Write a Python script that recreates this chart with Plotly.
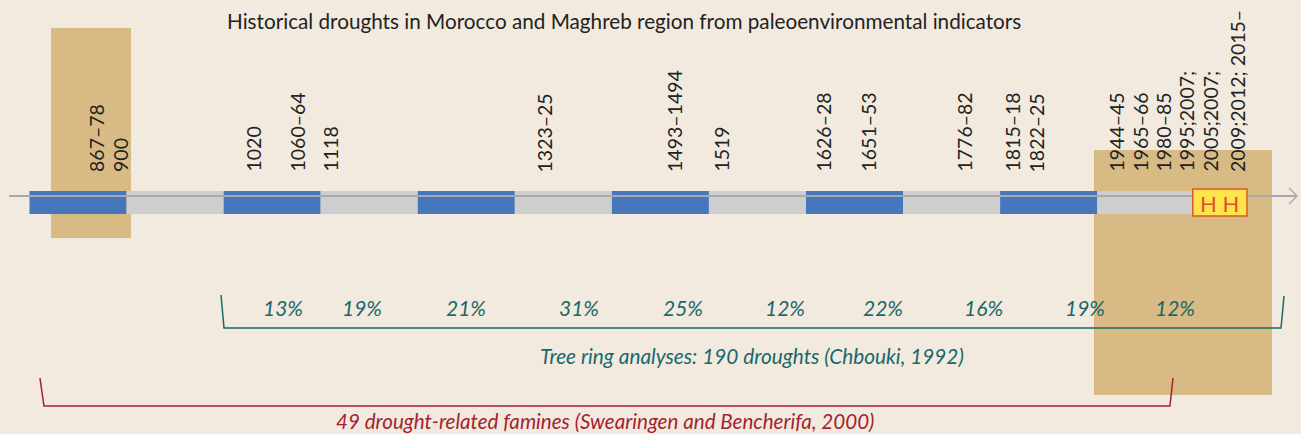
import plotly.graph_objects as go

# ---------------- data ----------------
title_text = "Historical droughts in Morocco and Maghreb region from paleoenvironmental indicators"

century_starts = [800, 900, 1000, 1100, 1200, 1300, 1400, 1500, 1600, 1700, 1800, 1900]
century_len = [100] * 12
century_kind = ["drought", "other"] * 6

recent_start = 1998.5
recent_end = 2054.4
recent_text = "H H"

drought_labels = ["867–78", "900", "1020", "1060–64", "1118", "1323–25", "1493–1494", "1519",
                  "1626–28", "1651–53", "1776–82", "1815–18", "1822–25", "1944–45", "1965–66",
                  "1980–85", "1995;2007;", "2005;2007;", "2009;2012; 2015–"]
drought_label_x = [868.5, 893.2, 1030.3, 1075.6, 1109.6, 1331.1, 1464.0, 1512.5,
                   1617.6, 1663.9, 1762.8, 1812.3, 1838.0, 1919.4, 1944.2,
                   1967.9, 1991.6, 2016.3, 2044.1]

pct_labels = ["13%", "19%", "21%", "31%", "25%", "12%", "22%", "16%", "19%", "12%"]
pct_x = [1061.2, 1142.6, 1249.8, 1366.1, 1473.3, 1578.4, 1679.3, 1782.4, 1887.5, 1980.2]

highlight_x0 = [822.2, 1896.7]
highlight_x1 = [904.6, 2080.1]

tree_ring_span = [997.3, 2092.5]
tree_ring_text = "Tree ring analyses: 190 droughts (Chbouki, 1992)"
tree_ring_text_x = 1544.4
famine_span = [810.8, 1978.1]
famine_text = "49 drought-related famines (Swearingen and Bencherifa, 2000)"
famine_text_x = 1393.0

axis_span = [778.9, 2105.9]

# ---------------- style ----------------
BG = "#F2EADE"
TAN = "#D8BA84"
BLUE = "#4677BB"
GREY = "#CECECE"
TEAL = "#17696C"
RED = "#A51F30"
INK = "#222222"
FONT = "Lato"

x_range = [769.61, 2110.0]
y_range = [434, 0]

fig = go.Figure()

# highlight boxes (behind)
hl_y = [(28, 238), (150, 395)]
for x0, x1, (y0, y1) in zip(highlight_x0, highlight_x1, hl_y):
    fig.add_shape(type="rect", x0=x0, x1=x1, y0=y0, y1=y1, fillcolor=TAN,
                  line_width=0, layer="below")

# timeline axis line
fig.add_trace(go.Scatter(x=axis_span, y=[196, 196], mode="lines",
                         line=dict(color="#A9A9A9", width=2), hoverinfo="skip", showlegend=False))
# arrow head
k = 8.2
fig.add_trace(go.Scatter(x=[axis_span[1] - k, axis_span[1], axis_span[1] - k], y=[188, 196, 204],
                         mode="lines", line=dict(color="#A9A9A9", width=1.5),
                         hoverinfo="skip", showlegend=False))

# century bars
fig.add_trace(go.Bar(orientation="h", base=century_starts, x=century_len, y=[202.5] * len(century_starts),
                     width=23, marker=dict(color=[BLUE if c == "drought" else GREY for c in century_kind],
                                           line=dict(width=0)),
                     hoverinfo="skip", showlegend=False))

# recent box
fig.add_shape(type="rect", x0=recent_start, x1=recent_end, y0=189, y1=216, fillcolor="#FFE54C",
              line=dict(color="#E0572C", width=1.5), layer="above")
fig.add_annotation(x=(recent_start + recent_end) / 2, y=203, text=recent_text, showarrow=False,
                   font=dict(family=FONT, size=22, color="#E0502A"), xanchor="center", yanchor="middle")

# brackets
fig.add_trace(go.Scatter(x=[tree_ring_span[0], tree_ring_span[0] + 3.1, tree_ring_span[1] - 3.1, tree_ring_span[1]],
                         y=[295, 328, 328, 296], mode="lines", line=dict(color=TEAL, width=1.5),
                         hoverinfo="skip", showlegend=False))
fig.add_trace(go.Scatter(x=[famine_span[0], famine_span[0] + 4.1, famine_span[1] - 3.1, famine_span[1]],
                         y=[378, 406, 406, 378], mode="lines", line=dict(color=RED, width=1.5),
                         hoverinfo="skip", showlegend=False))

# drought year labels
for lab, x in zip(drought_labels, drought_label_x):
    fig.add_annotation(x=x, y=174, text=lab, textangle=-90, showarrow=False,
                       xanchor="center", yanchor="bottom",
                       font=dict(family=FONT, size=19.5, color=INK))

# percentages
for lab, x in zip(pct_labels, pct_x):
    fig.add_annotation(x=x, y=307, text="<i>" + lab + "</i>", showarrow=False,
                       xanchor="center", yanchor="middle",
                       font=dict(family=FONT, size=21, color=TEAL))

fig.add_annotation(x=tree_ring_text_x, y=355, text="<i>" + tree_ring_text + "</i>",
                   showarrow=False, xanchor="center", yanchor="middle",
                   font=dict(family=FONT, size=20.8, color=TEAL))
fig.add_annotation(x=famine_text_x, y=421, text="<i>" + famine_text + "</i>",
                   showarrow=False, xanchor="center", yanchor="middle",
                   font=dict(family=FONT, size=20.6, color=RED))

fig.add_annotation(x=0.48, xref="paper", y=21, text=title_text, showarrow=False,
                   xanchor="center", yanchor="middle", font=dict(family=FONT, size=20.7, color=INK))

fig.update_layout(width=1301, height=434, margin=dict(l=0, r=0, t=0, b=0),
                  paper_bgcolor=BG, plot_bgcolor=BG, barmode="overlay",
                  xaxis=dict(range=x_range, visible=False, fixedrange=True),
                  yaxis=dict(range=y_range, visible=False, fixedrange=True),
                  showlegend=False)

fig.write_html("out.html", config={"displayModeBar": False},
               post_script="document.body.style.margin='0';document.body.style.background='" + BG + "';")
